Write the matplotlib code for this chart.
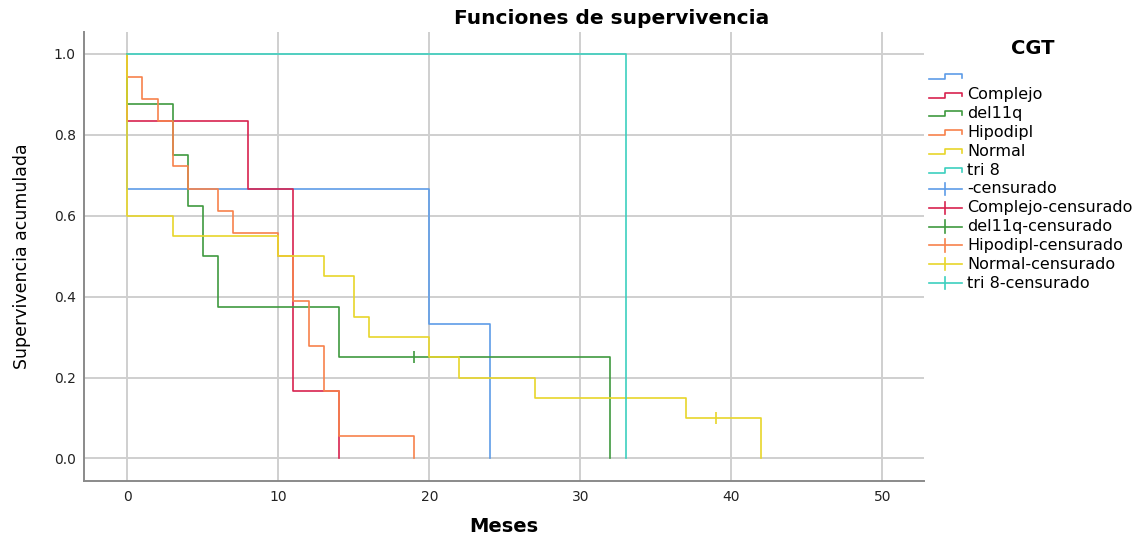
import matplotlib
matplotlib.use('Agg')
import matplotlib.pyplot as plt
from matplotlib.lines import Line2D
from matplotlib.legend_handler import HandlerBase

plt.rcParams['font.family'] = ['DejaVu Sans']

# grupos de CGT
grupos = ['', 'Complejo', 'del11q', 'Hipodipl', 'Normal', 'tri 8']
colores = ['#5d9ce8', '#d8234f', '#3f9a3f', '#f7824c', '#e8d62a', '#3ccfbf']

# tiempos de los escalones (meses) y supervivencia despues de cada escalon
t_blank = [0, 0, 20, 24]
s_blank = [1.0, 0.667, 0.333, 0.0]

t_complejo = [0, 0, 8, 11, 14]
s_complejo = [1.0, 0.833, 0.667, 0.167, 0.0]

t_del11q = [0, 0, 3, 4, 5, 6, 14, 32]
s_del11q = [1.0, 0.875, 0.75, 0.625, 0.5, 0.375, 0.25, 0.0]

t_hipo = [0, 0, 1, 2, 3, 4, 6, 7, 10, 11, 12, 13, 14, 19]
s_hipo = [1.0, 0.944, 0.889, 0.833, 0.722, 0.667, 0.611, 0.556, 0.5,
          0.389, 0.278, 0.167, 0.056, 0.0]

t_normal = [0, 0, 3, 10, 13, 15, 16, 20, 22, 27, 37, 42]
s_normal = [1.0, 0.6, 0.55, 0.5, 0.45, 0.35, 0.3, 0.25, 0.2, 0.15, 0.1, 0.0]

t_tri8 = [0, 33]
s_tri8 = [1.0, 0.0]

# casos censurados
cens_grupo = ['del11q', 'Normal']
cens_t = [19, 39]
cens_s = [0.25, 0.1]

tiempos = [t_blank, t_complejo, t_del11q, t_hipo, t_normal, t_tri8]
superv = [s_blank, s_complejo, s_del11q, s_hipo, s_normal, s_tri8]


class StepHandler(HandlerBase):
    def create_artists(self, legend, orig_handle, xdescent, ydescent,
                       width, height, fontsize, trans):
        x0 = -xdescent
        lo = -ydescent + 0.15 * height
        hi = -ydescent + 0.6 * height
        xs = [x0, x0 + 0.5 * width, x0 + 0.5 * width, x0 + width, x0 + width]
        ys = [lo, lo, hi, hi, lo + 0.1 * height]
        ln = Line2D(xs, ys, color=orig_handle.get_color(), lw=1.2)
        ln.set_transform(trans)
        return [ln]


class CensHandler(HandlerBase):
    def create_artists(self, legend, orig_handle, xdescent, ydescent,
                       width, height, fontsize, trans):
        x0 = -xdescent
        ym = -ydescent + 0.4 * height
        ln = Line2D([x0, x0 + width], [ym, ym], color=orig_handle.get_color(), lw=1.2)
        vl = Line2D([x0 + 0.5 * width] * 2, [ym - 0.55 * height, ym + 0.55 * height],
                    color=orig_handle.get_color(), lw=1.2)
        ln.set_transform(trans)
        vl.set_transform(trans)
        return [ln, vl]


fig = plt.figure(figsize=(11.45, 5.38), dpi=100)
ax = fig.add_axes([0.0734, 0.1065, 0.7336, 0.834])

step_handles = []
for nombre, tt, ss, c in zip(grupos, tiempos, superv, colores):
    h, = ax.step(tt, ss, where='post', color=c, lw=1.2, zorder=3)
    step_handles.append(h)

for g, t, s in zip(cens_grupo, cens_t, cens_s):
    c = colores[grupos.index(g)]
    ax.plot([t], [s], marker='|', markersize=8, mew=1.2, color=c, zorder=4)

ax.set_xlim(-2.87, 52.77)
ax.set_ylim(-0.055, 1.054)
ax.set_xticks([0, 10, 20, 30, 40, 50])
ax.set_yticks([0.0, 0.2, 0.4, 0.6, 0.8, 1.0])
ax.set_yticklabels(['0.0', '0.2', '0.4', '0.6', '0.8', '1.0'])
ax.grid(True, color='#cfcfcf', lw=1.4)
ax.set_axisbelow(True)
for side in ['top', 'right']:
    ax.spines[side].set_visible(False)
for side in ['left', 'bottom']:
    ax.spines[side].set_color('#8a8a8a')
    ax.spines[side].set_linewidth(1.4)
ax.tick_params(length=0, labelsize=10, colors='#222222')
ax.tick_params(axis='x', pad=7)
ax.tick_params(axis='y', pad=6)

ax.set_xlabel('Meses', fontsize=14, fontweight='bold', labelpad=9)
ax.set_ylabel('Supervivencia acumulada', fontsize=12.5, labelpad=16)
fig.text(0.534, 0.966, 'Funciones de supervivencia', fontsize=14.5,
         fontweight='bold', ha='center', va='center')

# leyenda
fig.text(1033 / 1145, 1 - 48 / 538, 'CGT', fontsize=14, fontweight='bold',
         ha='center', va='center')
cens_handles = [Line2D([], [], color=c) for c in colores]
handles = step_handles + cens_handles
labels = grupos + [g + '-censurado' for g in grupos]
hmap = {h: StepHandler() for h in step_handles}
hmap.update({h: CensHandler() for h in cens_handles})
leg = fig.legend(handles, labels, handler_map=hmap, loc='upper left',
                 bbox_to_anchor=(0.8055, 1 - 62 / 538), frameon=False, fontsize=11.5,
                 handlelength=2.1, handletextpad=0.3, labelspacing=0.24,
                 borderaxespad=0.0, borderpad=0.4)

fig.savefig('out.png', dpi=100)
